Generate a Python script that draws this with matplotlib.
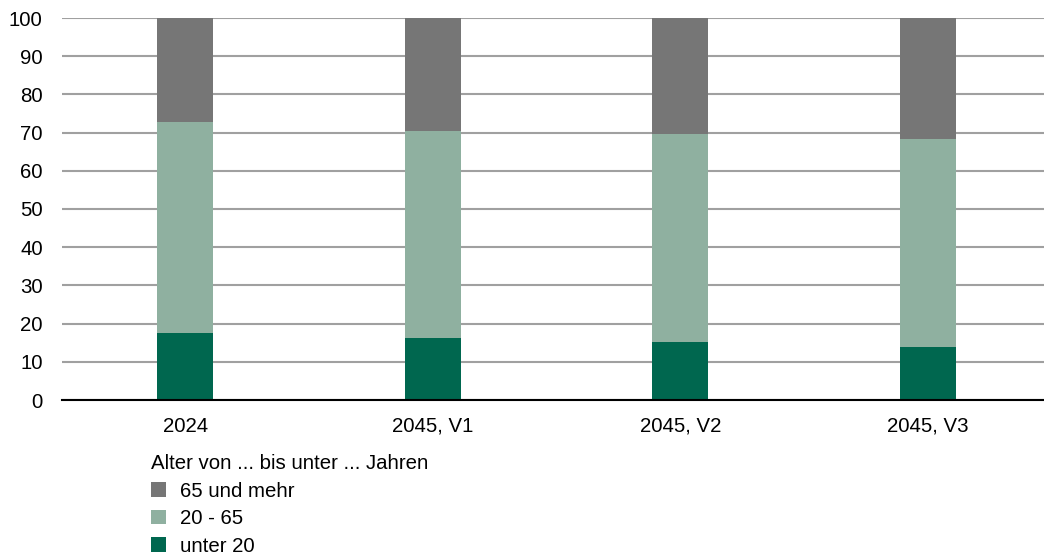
import matplotlib.pyplot as plt
import numpy as np

plt.rcParams['font.family'] = ['Liberation Sans', 'DejaVu Sans']

# Daten (Anteile in %)
kategorien = ['2024', '2045, V1', '2045, V2', '2045, V3']
unter_20 = [17.5, 16.2, 15.1, 13.9]
mitte_20_65 = [55.3, 54.1, 54.6, 54.4]
ab_65 = [27.2, 29.7, 30.3, 31.7]

farben = {'unter 20': '#00674f', '20 - 65': '#8fb0a0', '65 und mehr': '#767676'}
schrift = 14.7

fig = plt.figure(figsize=(10.44, 5.58), dpi=100)
ax = fig.add_axes([61.5 / 1044, 1 - 400 / 558, 990 / 1044, 382 / 558])

x = np.arange(len(kategorien))
breite = 0.228
unten = np.array(unter_20)
mitte = unten + np.array(mitte_20_65)

b1 = ax.bar(x, unter_20, breite, color=farben['unter 20'], zorder=3, label='unter 20')
b2 = ax.bar(x, mitte_20_65, breite, bottom=unten, color=farben['20 - 65'], zorder=3, label='20 - 65')
b3 = ax.bar(x, ab_65, breite, bottom=mitte, color=farben['65 und mehr'], zorder=3, label='65 und mehr')

ax.set_xlim(-0.5, len(kategorien) - 0.5)
ax.set_ylim(0, 100)
ax.set_yticks(range(0, 101, 10))
ax.set_xticks(x)
ax.set_xticklabels(kategorien)
ax.yaxis.grid(True, color='#a0a0a0', linewidth=1.5, zorder=0)
ax.set_axisbelow(True)

for s in ['left', 'right', 'top']:
    ax.spines[s].set_visible(False)
ax.spines['bottom'].set_color('black')
ax.spines['bottom'].set_linewidth(1.5)
ax.spines['bottom'].set_zorder(4)

ax.tick_params(axis='both', length=0, labelsize=schrift, colors='black')
ax.tick_params(axis='y', pad=13.5)
ax.tick_params(axis='x', pad=12)

leg = fig.legend([b3, b2, b1], ['65 und mehr', '20 - 65', 'unter 20'],
                 loc='upper left', bbox_to_anchor=(151 / 1044, 1 - 454 / 558),
                 frameon=False, fontsize=schrift, title='Alter von ... bis unter ... Jahren',
                 title_fontsize=schrift, alignment='left', handlelength=0.73,
                 handleheight=0.73, handletextpad=0.7, labelspacing=0.42,
                 borderpad=0, borderaxespad=0)

fig.savefig('out.png', dpi=100)
